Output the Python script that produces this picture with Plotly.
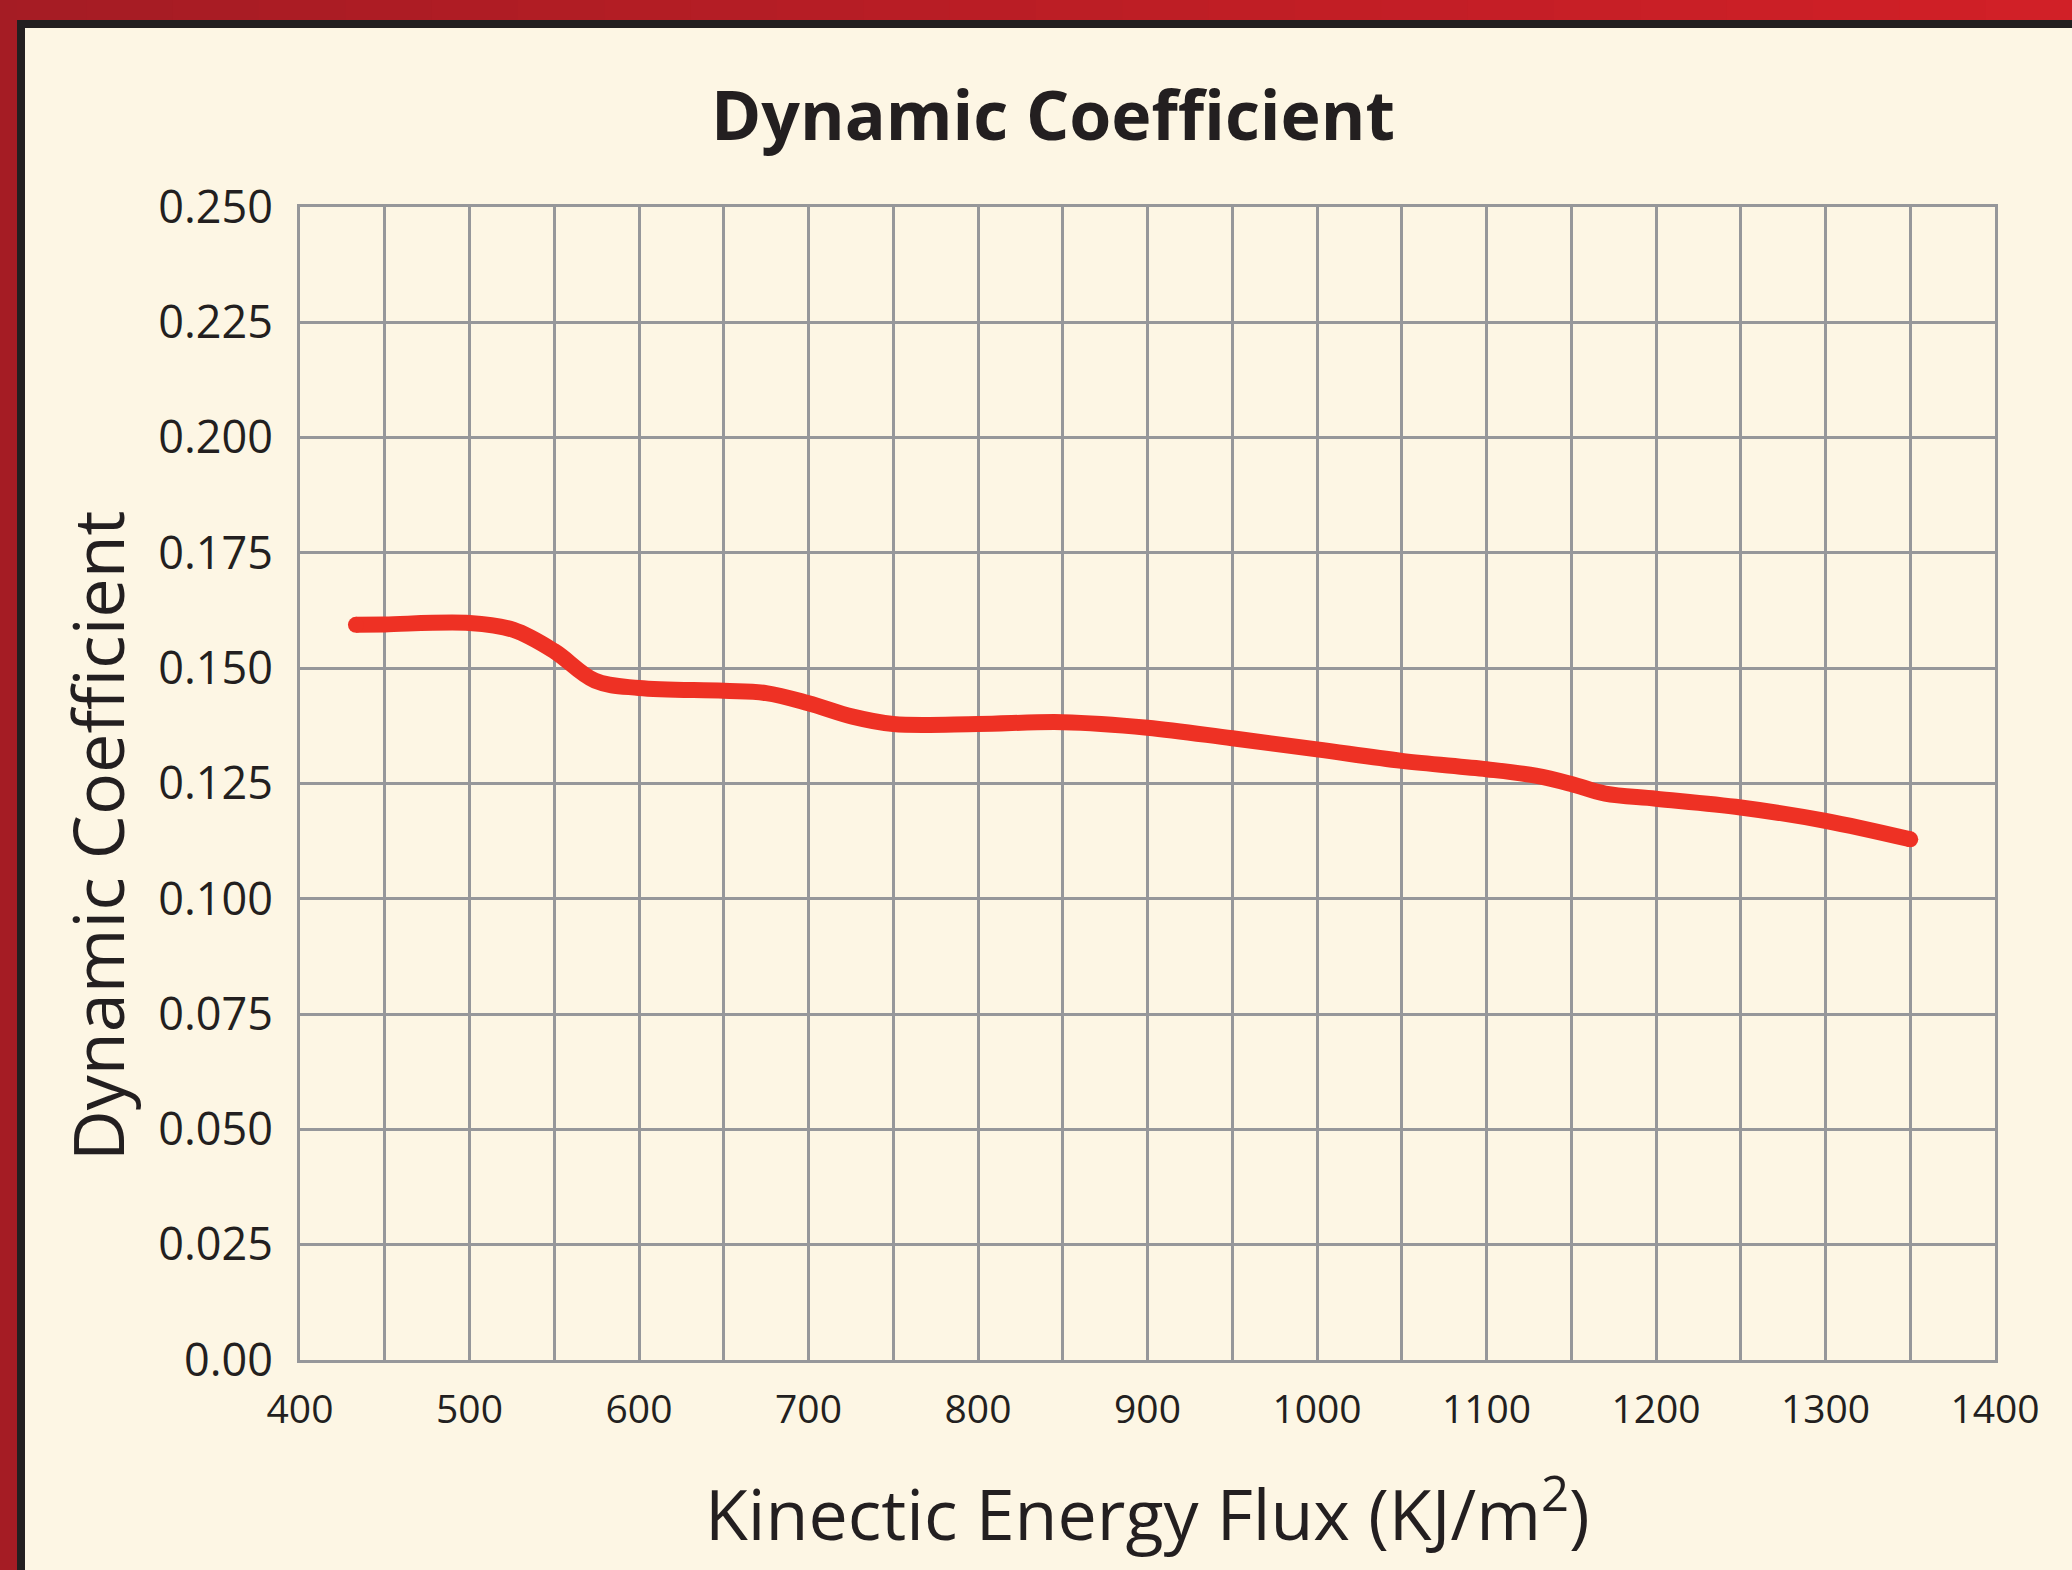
import plotly.graph_objects as go

# ---- data ----
flux = [433, 450, 500, 526, 550, 574, 600, 650, 675, 700, 726, 750, 800,
        850, 900, 950, 1000, 1050, 1100, 1129, 1150, 1170, 1200, 1250, 1300, 1350]
coef = [0.1594, 0.1595, 0.1598, 0.1583, 0.1537, 0.1473, 0.1457, 0.1451,
        0.1446, 0.1424, 0.1395, 0.1379, 0.1379, 0.1383, 0.1371, 0.1348, 0.1324,
        0.1299, 0.1281, 0.1267, 0.1249, 0.1228, 0.1217, 0.1198, 0.1169, 0.1129]

x_ticks = [400, 500, 600, 700, 800, 900, 1000, 1100, 1200, 1300, 1400]
y_ticks = [0.0, 0.025, 0.05, 0.075, 0.1, 0.125, 0.15, 0.175, 0.2, 0.225, 0.25]
y_tick_text = ["0.00", "0.025", "0.050", "0.075", "0.100", "0.125", "0.150",
               "0.175", "0.200", "0.225", "0.250"]

W, H = 2072, 1570
L, R, T, B = 300, 1995, 207, 1360
PW, PH = R - L, B - T

CREAM = "#FDF6E4"
GRID = "#96979A"
LINE = "#EE3124"
TXT = "#231F20"
FONT = "Open Sans"


def px(xp):
    return (xp - L) / PW


def py(yp):
    return (B - yp) / PH


fig = go.Figure()
fig.add_trace(go.Scatter(
    x=flux, y=coef, mode="lines",
    line=dict(color=LINE, width=16, shape="spline", smoothing=1.0),
    hoverinfo="x+y", showlegend=False))
# round end caps
fig.add_trace(go.Scatter(
    x=[flux[0], flux[-1]], y=[coef[0], coef[-1]], mode="markers",
    marker=dict(color=LINE, size=16, line=dict(width=0)),
    hoverinfo="skip", showlegend=False))

shapes = []
# top red band with a horizontal gradient
n = 24
c0 = (0xA6, 0x1C, 0x24)
c1 = (0xD1, 0x20, 0x27)
for i in range(n):
    t = i / (n - 1)
    col = "rgb(%d,%d,%d)" % tuple(int(a + (b - a) * t) for a, b in zip(c0, c1))
    x0 = W * i / n
    x1 = min(W, W * (i + 1) / n + 1)
    shapes.append(dict(type="rect", xref="paper", yref="paper",
                       x0=px(x0), x1=px(x1), y0=py(20), y1=py(0),
                       fillcolor=col, line=dict(width=0), layer="above"))
# left red band
shapes.append(dict(type="rect", xref="paper", yref="paper",
                   x0=px(0), x1=px(17), y0=py(H), y1=py(0),
                   fillcolor="#A51C24", line=dict(width=0), layer="above"))
# black inner lines
shapes.append(dict(type="rect", xref="paper", yref="paper",
                   x0=px(17), x1=px(W), y0=py(28), y1=py(20),
                   fillcolor="#231F20", line=dict(width=0), layer="above"))
shapes.append(dict(type="rect", xref="paper", yref="paper",
                   x0=px(17), x1=px(25), y0=py(H), y1=py(20),
                   fillcolor="#231F20", line=dict(width=0), layer="above"))

annotations = [
    dict(text="Dynamic Coefficient", xref="paper", yref="paper",
         x=px(97), y=py(836), textangle=-90, showarrow=False,
         xanchor="center", yanchor="middle",
         font=dict(family=FONT, size=70, color=TXT)),
    dict(text="Kinectic Energy Flux (KJ/m<sup>2</sup>)", xref="paper", yref="paper",
         x=px(1147), y=py(1510), showarrow=False,
         xanchor="center", yanchor="middle",
         font=dict(family=FONT, size=70, color=TXT)),
]

fig.update_layout(
    width=W, height=H,
    margin=dict(l=L, r=W - R, t=T, b=H - B),
    paper_bgcolor=CREAM, plot_bgcolor=CREAM,
    title=dict(text="<b>Dynamic Coefficient</b>", x=1053 / W, xanchor="center",
               y=1 - 116 / H, yanchor="middle", xref="container", yref="container",
               font=dict(family=FONT, size=68, color=TXT)),
    shapes=shapes, annotations=annotations,
    xaxis=dict(range=[400, 1400], tickvals=x_ticks, ticktext=[str(v) for v in x_ticks],
               showgrid=True, gridcolor=GRID, gridwidth=3,
               minor=dict(dtick=50, tick0=400, showgrid=True, gridcolor=GRID, gridwidth=3),
               showline=True, linecolor=GRID, linewidth=3, mirror=True,
               zeroline=False, ticks="", ticklabelstandoff=13,
               tickfont=dict(family=FONT, size=39, color=TXT)),
    yaxis=dict(range=[0, 0.25], tickvals=y_ticks, ticktext=y_tick_text,
               showgrid=True, gridcolor=GRID, gridwidth=3,
               showline=True, linecolor=GRID, linewidth=3, mirror=True,
               zeroline=False, ticks="", ticklabelstandoff=15,
               tickfont=dict(family=FONT, size=45, color=TXT)),
)

fig.write_html("out.html",
               config={"displayModeBar": False},
               post_script="document.body.style.margin='0';"
                           "document.body.style.overflow='hidden';")
